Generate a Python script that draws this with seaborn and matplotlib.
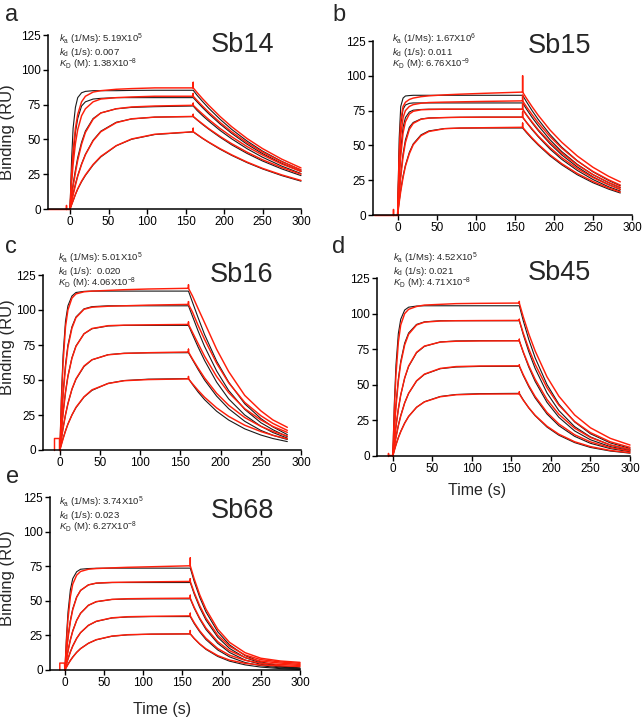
import pandas as pd
import seaborn as sns
import matplotlib.pyplot as plt

# shared association time grid (s); dissociation grid is per panel
T_ASSOC = [0, 2, 4, 7, 10, 15, 20, 30, 40, 60, 80, 110, 160]

# ---------------- Sb14 ----------------
sb14_diss_t = [165, 172, 180, 195, 210, 230, 250, 275, 300]
sb14_fit = [
    [0, 35, 58, 73, 80, 83.5, 84.5, 85, 85, 85, 85.2, 85.3, 85.3, 81.7, 77.3, 72.5, 64.4, 57.2, 48.8, 41.6, 34.2, 28.0],
    [0, 22, 38, 55, 65, 74, 77, 79, 79.5, 80, 80, 80, 80, 77.0, 72.9, 68.5, 61.0, 54.3, 46.5, 39.8, 32.8, 27.0],
    [0, 9.5, 18, 28, 37, 48, 56, 65, 69, 72, 73, 73.5, 74, 70.8, 67.1, 63.2, 56.4, 50.4, 43.3, 37.2, 30.8, 25.5],
    [0, 5.7, 10.9, 17.9, 24.0, 32.4, 39.3, 49.4, 55.9, 62.3, 64.7, 66.0, 66.4, 64.0, 60.8, 57.4, 51.5, 46.1, 39.9, 34.5, 28.8, 24.0],
    [0, 3.0, 5.9, 10.4, 14.3, 19.6, 24.1, 31.6, 37.4, 45.4, 50.1, 53.5, 55.4, 53.4, 50.7, 47.9, 42.9, 38.5, 33.3, 28.8, 24.0, 20.0],
]
# observed: association (13), spike at 160, dissociation (9)
sb14_obs = [
    [0, 25, 42, 58, 68, 77, 81, 84, 85, 86, 86.5, 87, 87, 91, 83.7, 79.3, 74.6, 66.4, 59.1, 50.6, 43.4, 35.8, 29.5],
    [0, 18, 32, 47, 57, 67, 72, 77, 79, 80, 80.5, 81, 81, 83, 78.0, 74.0, 69.6, 62.1, 55.4, 47.6, 40.9, 33.9, 28.0],
    [0, 8, 16, 26, 35, 46.5, 55, 64.5, 69, 72, 73.3, 74, 74.5, 76, 71.8, 68.3, 64.4, 57.8, 51.9, 44.8, 38.8, 32.3, 27.0],
    [0, 5, 10, 17, 23.5, 32, 39, 49, 55.5, 62, 64.8, 66, 66.5, 68, 64.2, 61.2, 57.8, 52.1, 46.9, 40.8, 35.4, 29.8, 25.0],
    [0, 3, 6, 10.5, 14.5, 20, 24.5, 32, 37.8, 45.5, 50.3, 53.7, 55.5, 58, 53.6, 50.9, 48.1, 43.3, 38.9, 33.7, 29.2, 24.5, 20.5],
]
sb14_base_t = [-28, -5, -5, -5, 0]
sb14_base_v = [0, 0, 3, 0, 0]

# ---------------- Sb15 ----------------
sb15_diss_t = [165, 172, 180, 195, 210, 230, 250, 270, 285]
sb15_fit = [
    [0, 55, 78, 84, 85.5, 85.8, 86, 86, 86, 86, 86, 86, 86, 81.3, 75.1, 68.6, 57.9, 48.8, 39.0, 31.0, 24.8, 21.0],
    [0, 42, 65, 76, 79, 80.2, 80.5, 80.5, 80.5, 80.5, 80.5, 80.5, 80.5, 76.0, 70.2, 64.2, 54.1, 45.6, 36.4, 29.0, 23.2, 19.6],
    [0, 28, 47, 63, 70, 74, 75.3, 75.8, 76, 76, 76, 76, 76, 71.8, 66.3, 60.6, 51.2, 43.2, 34.5, 27.4, 21.9, 18.5],
    [0, 16, 29, 44, 54, 63, 66.5, 69, 69.7, 70, 70.2, 70.3, 70.3, 66.5, 61.4, 56.2, 47.4, 40.0, 32.0, 25.5, 20.3, 17.2],
    [0, 9.8, 18.0, 28.0, 35.8, 45.0, 51.1, 57.6, 60.4, 62.1, 62.4, 62.5, 62.5, 59.1, 54.8, 50.2, 42.5, 36.1, 28.9, 23.2, 18.6, 15.8],
]
sb15_obs = [
    [0, 45, 68, 78, 81, 83, 84, 85, 85.6, 86.3, 86.8, 87.4, 88.3, 100, 83.8, 77.9, 71.6, 61.1, 52.3, 42.4, 34.3, 27.8, 23.8],
    [0, 35, 57, 70, 75, 78, 79.3, 80.3, 80.8, 81.1, 81.3, 81.6, 82, 86, 77.7, 72.2, 66.2, 56.4, 48.1, 38.8, 31.3, 25.3, 21.5],
    [0, 24, 42, 59, 67, 72.5, 74.5, 75.6, 75.8, 76, 76, 76, 76, 80, 72.0, 66.9, 61.3, 52.3, 44.5, 35.9, 29.0, 23.4, 19.9],
    [0, 14, 27, 42, 52, 61.5, 65.8, 68.8, 69.6, 70, 70.2, 70.3, 70.3, 74, 66.6, 61.9, 56.7, 48.4, 41.2, 33.3, 26.9, 21.7, 18.4],
    [0, 9, 17, 27, 35, 44, 50.5, 57, 60, 62, 62.5, 62.7, 63, 66, 59.7, 55.4, 50.8, 43.3, 36.9, 29.8, 24.1, 19.4, 16.5],
]
sb15_base_t = [-30, -6, -6, -6, 0]
sb15_base_v = [0, 0, 4, 0, 0]

# ---------------- Sb16 ----------------
sb16_diss_t = [165, 172, 180, 195, 210, 230, 250, 265, 283]
sb16_fit = [
    [0, 40, 68, 92, 103, 110, 112.5, 113.3, 113.5, 113.5, 113.5, 113.5, 113.5, 105.5, 94.5, 82.5, 63.5, 48.5, 33.0, 22.5, 16.5, 11.0],
    [0, 23, 41, 61, 75, 88, 95, 100.8, 102.4, 103, 103, 103, 103, 95.5, 85.0, 74.0, 56.5, 42.5, 29.0, 19.5, 14.5, 9.5],
    [0, 14.7, 26.9, 41.6, 52.8, 65.9, 74.3, 83.0, 86.6, 88.6, 89, 89, 89, 82.5, 73.5, 64.0, 48.5, 36.5, 25.0, 17.0, 12.5, 8.5],
    [0, 8.5, 15.9, 25.4, 33.2, 43.3, 50.5, 59.6, 64.4, 68.1, 69.1, 69.4, 69.5, 64.5, 57.5, 50.0, 38.5, 29.5, 20.5, 14.0, 10.5, 7.5],
    [0, 4.4, 8.4, 13.8, 18.5, 25.0, 30.2, 37.8, 42.6, 47.6, 49.6, 50.6, 51, 46.8, 41.4, 36.0, 27.7, 21.4, 15.1, 10.7, 8.2, 6.0],
]
sb16_obs = [
    [0, 35, 62, 88, 100, 108.5, 111.5, 113, 113.5, 114, 114.5, 115, 115.5, 118, 110.0, 101.0, 91.0, 72.0, 56.0, 39.0, 28.0, 21.5, 16.2],
    [0, 21, 39, 59, 73.5, 87, 94.5, 100.5, 102, 102.7, 103, 103.5, 104, 106, 98.5, 89.0, 79.0, 62.0, 48.0, 34.0, 24.5, 19.0, 14.0],
    [0, 14, 26, 41, 52.5, 65.5, 74, 83, 86.8, 88.8, 89.2, 89.4, 89.7, 91.5, 84.0, 76.0, 67.0, 52.5, 41.0, 29.5, 21.5, 16.8, 12.6],
    [0, 8, 15.5, 25, 33, 43.5, 50.8, 60, 64.5, 68, 69, 69.5, 70, 72, 65.0, 58.5, 51.5, 40.5, 32.0, 23.2, 16.9, 13.3, 10.0],
    [0, 4, 8, 13.5, 18.5, 25, 30.5, 38, 43, 47.5, 49.5, 50.3, 50.8, 52.5, 47.3, 42.6, 37.7, 30.1, 24.0, 17.7, 13.2, 10.5, 8.0],
]
sb16_base_t = [-7, -7, -1, -1, 0]
sb16_base_v = [0, 8.5, 8.5, 0, 0]

# ---------------- Sb45 ----------------
sb45_diss_t = [165, 172, 180, 195, 210, 230, 250, 275, 300]
sb45_fit = [
    [0, 38, 64, 86, 96, 102.5, 104.5, 105.3, 105.5, 105.5, 105.5, 105.5, 105.5, 95.0, 81.8, 69.0, 50.2, 36.5, 23.9, 15.6, 9.2, 5.4],
    [0, 20.2, 36.2, 54.0, 66.4, 79.3, 86.4, 92.4, 94.2, 95, 95, 95, 95, 85.2, 73.2, 61.5, 44.3, 31.9, 20.6, 13.4, 7.7, 4.5],
    [0, 11.3, 21.0, 33.1, 42.8, 54.7, 62.9, 72.5, 77.0, 80.1, 80.8, 81, 81, 72.7, 62.4, 52.4, 37.7, 27.2, 17.6, 11.4, 6.6, 3.8],
    [0, 7.1, 13.4, 21.6, 28.4, 37.4, 44.0, 52.6, 57.3, 61.3, 62.5, 62.9, 63, 56.5, 48.6, 40.8, 29.5, 21.3, 13.8, 8.9, 5.2, 3.0],
    [0, 4.2, 8.0, 13.0, 17.3, 23.2, 27.8, 34.2, 38.1, 41.8, 43.2, 43.8, 44, 39.4, 33.7, 28.3, 20.3, 14.6, 9.4, 6.0, 3.5, 2.0],
]
sb45_obs = [
    [0, 33, 57, 80, 92, 100, 103, 105, 106, 106.5, 107, 107.2, 107.4, 108.5, 97.7, 85.7, 73.8, 55.6, 42.0, 28.8, 19.8, 12.4, 7.7],
    [0, 19, 34.5, 52.5, 65, 78, 85.5, 92, 94, 94.8, 95, 95.1, 95.2, 96, 86.3, 75.2, 64.4, 48.0, 35.7, 24.2, 16.4, 10.0, 6.1],
    [0, 10.8, 20.5, 32.8, 42.8, 54.8, 63.2, 72.8, 77.2, 80, 80.6, 80.8, 80.9, 82, 73.1, 63.4, 53.9, 39.7, 29.3, 19.5, 13.0, 7.8, 4.7],
    [0, 6.8, 13, 21.2, 28, 37.2, 44, 52.8, 57.5, 61.5, 62.8, 63.2, 63.3, 64, 57.1, 49.4, 41.8, 30.6, 22.5, 14.9, 9.9, 5.9, 3.5],
    [0, 4, 7.8, 12.8, 17, 23, 27.8, 34.2, 38, 41.6, 43, 43.5, 43.6, 45, 39.2, 33.9, 28.6, 20.9, 15.3, 10.0, 6.6, 3.9, 2.3],
]
sb45_base_t = [-6, -6, -6, 0]
sb45_base_v = [0, 2, 1, 1]

# ---------------- Sb68 ----------------
sb68_diss_t = [165, 172, 180, 195, 210, 230, 250, 275, 300]
sb68_fit = [
    [0, 24, 42, 58, 66, 71, 72.8, 73.3, 73.5, 73.6, 73.6, 73.6, 73.6, 64.0, 52.6, 42.0, 27.6, 18.2, 10.4, 5.9, 2.9, 1.5],
    [0, 13.5, 24.1, 35.9, 44.2, 52.8, 57.5, 61.5, 62.7, 63.2, 63.2, 63.2, 63.2, 54.9, 45.2, 36.1, 23.7, 15.6, 8.9, 5.1, 2.5, 1.3],
    [0, 7.6, 14.1, 22.0, 28.3, 35.9, 41.0, 46.7, 49.3, 51.0, 51.3, 51.4, 51.4, 44.7, 36.8, 29.3, 19.3, 12.7, 7.2, 4.1, 2.1, 1.0],
    [0, 4.4, 8.2, 13.2, 17.4, 22.9, 27.0, 32.2, 35.1, 37.6, 38.3, 38.6, 38.6, 33.5, 27.6, 22.0, 14.5, 9.5, 5.4, 3.1, 1.5, 0.8],
    [0, 2.2, 4.3, 7.0, 9.4, 12.8, 15.5, 19.3, 21.8, 24.4, 25.4, 25.9, 26.1, 22.7, 18.7, 14.9, 9.8, 6.4, 3.7, 2.1, 1.0, 0.5],
]
sb68_obs = [
    [0, 20, 37, 53, 62, 68.5, 71.2, 72.8, 73.3, 73.8, 74.2, 74.6, 75.3, 81, 65.8, 54.4, 44.0, 29.5, 20.0, 12.5, 8.5, 6.5, 5.5],
    [0, 12.5, 23, 35, 43.5, 52.5, 57.5, 61.5, 62.8, 63.3, 63.5, 63.7, 64, 66, 56.0, 46.5, 37.5, 25.2, 17.2, 10.8, 7.5, 5.8, 4.8],
    [0, 7.2, 13.6, 21.6, 28, 35.8, 41, 46.8, 49.4, 51, 51.5, 51.7, 51.9, 54, 45.3, 37.5, 30.3, 20.5, 14.0, 9.0, 6.4, 5.0, 4.0],
    [0, 4.2, 8, 13, 17.2, 22.8, 27, 32.3, 35.2, 37.7, 38.5, 38.8, 39.1, 41, 34.2, 28.3, 22.9, 15.5, 10.7, 7.0, 5.0, 4.0, 3.3],
    [0, 2, 4.1, 6.8, 9.2, 12.7, 15.4, 19.3, 21.9, 24.5, 25.5, 25.9, 26.1, 28.5, 22.8, 18.9, 15.3, 10.4, 7.2, 4.8, 3.6, 3.0, 2.5],
]
sb68_base_t = [-6.5, -6.5, -0.5, 0]
sb68_base_v = [0, 5, 5, 0]

# kinetic constants shown in each panel
names = ["Sb14", "Sb15", "Sb16", "Sb45", "Sb68"]
panel_letters = ["a", "b", "c", "d", "e"]
ka_text = ["5.19X10$^{5}$", "1.67X10$^{6}$", "5.01X10$^{5}$", "4.52X10$^{5}$", "3.74X10$^{5}$"]
kd_text = ["0.007", "0.011", " 0.020", "0.021", "0.023"]
KD_text = ["1.38X10$^{-8}$", "6.76X10$^{-9}$", "4.06X10$^{-8}$", "4.71X10$^{-8}$", "6.27X10$^{-8}$"]

panels = [
    (sb14_fit, sb14_obs, sb14_diss_t, sb14_base_t, sb14_base_v),
    (sb15_fit, sb15_obs, sb15_diss_t, sb15_base_t, sb15_base_v),
    (sb16_fit, sb16_obs, sb16_diss_t, sb16_base_t, sb16_base_v),
    (sb45_fit, sb45_obs, sb45_diss_t, sb45_base_t, sb45_base_v),
    (sb68_fit, sb68_obs, sb68_diss_t, sb68_base_t, sb68_base_v),
]


def build_frame(fit, obs, diss_t, base_t, base_v):
    rows = []
    t_fit = T_ASSOC + diss_t
    for i, vals in enumerate(fit):
        for t, v in zip(t_fit, vals):
            rows.append((t, v, f"fit{i}", "fit"))
    # red trace goes up to the injection spike at 160 s and back before decaying
    t_obs = T_ASSOC + [160, 160] + diss_t
    for i, vals in enumerate(obs):
        seq = vals[:14] + [vals[12]] + vals[14:]
        for t, v in zip(t_obs, seq):
            rows.append((t, v, f"obs{i}", "obs"))
    for t, v in zip(base_t, base_v):
        rows.append((t, v, "base", "obs"))
    return pd.DataFrame(rows, columns=["time", "RU", "curve", "kind"])


sns.set_theme(style="ticks")
plt.rcParams["font.family"] = ["Liberation Sans", "DejaVu Sans"]
plt.rcParams["mathtext.fontset"] = "custom"
plt.rcParams["mathtext.rm"] = "Liberation Sans"
plt.rcParams["mathtext.it"] = "Liberation Sans:italic"

W, H = 642, 719
fig = plt.figure(figsize=(W / 100, H / 100), dpi=100)

# pixel boxes: left, right, top, bottom
boxes = [(48, 301, 35, 209), (373, 632, 41, 215), (43, 301, 275, 450),
         (377, 630, 278, 456), (50, 300, 497, 670)]
xmins = [-28.6, -31.5, -21, -20, -19]
title_pos = [(0.77, 0.945), (0.72, 0.97), (0.77, 1.0), (0.72, 1.03), (0.77, 0.92)]
letter_pos = [(5, 21), (332, 21), (5, 253), (332, 253), (6, 483)]
annot_pos = [(59, 32), (392, 32), (58, 251), (393, 251), (59, 495)]

RED = "#ff1e0a"

for k, (fit, obs, diss_t, base_t, base_v) in enumerate(panels):
    l, r, t, b = boxes[k]
    ax = fig.add_axes([l / W, 1 - b / H, (r - l) / W, (b - t) / H])
    df = build_frame(fit, obs, diss_t, base_t, base_v)
    # fitted curves underneath, measured traces in red on top
    sns.lineplot(data=df[df.kind == "fit"], x="time", y="RU", units="curve",
                 estimator=None, sort=False, color="#1a1a1a", lw=0.8, ax=ax)
    sns.lineplot(data=df[df.kind == "obs"], x="time", y="RU", units="curve",
                 estimator=None, sort=False, color=RED, lw=1.05, ax=ax)
    for ln in ax.lines:
        ln.set_clip_on(False)

    ax.set_xlim(xmins[k], 300)
    ax.set_ylim(0, 125)
    ax.set_xticks([0, 50, 100, 150, 200, 250, 300])
    ax.set_yticks([0, 25, 50, 75, 100, 125])
    ax.tick_params(direction="out", length=3.5, width=1, labelsize=8.5, pad=1.5, colors="black")
    for side in ["top", "right"]:
        ax.spines[side].set_visible(False)
    for side in ["left", "bottom"]:
        ax.spines[side].set_linewidth(1.1)
        ax.spines[side].set_color("black")
    ax.set_xlabel("")
    ax.set_ylabel("")

    ax.text(title_pos[k][0], title_pos[k][1], names[k], transform=ax.transAxes,
            ha="center", va="center", fontsize=19.5)
    fig.text(letter_pos[k][0] / W, 1 - letter_pos[k][1] / H, panel_letters[k],
             fontsize=17, va="baseline", ha="left")
    ax_x, ax_y = annot_pos[k]
    block = "\n".join([r"$k_{\mathrm{a}}$ (1/Ms): " + ka_text[k],
                       r"$k_{\mathrm{d}}$ (1/s): " + kd_text[k],
                       r"$K_{\mathrm{D}}$ (M): " + KD_text[k]])
    fig.text(ax_x / W, 1 - ax_y / H, block, fontsize=6.8, linespacing=0.84,
             ha="left", va="top")

    if k in (0, 2, 4):
        ax.set_ylabel("Binding (RU)", fontsize=12)
        lab = {0: (-0.130, 0.44), 2: (-0.109, 0.59), 4: (-0.14, 0.53)}[k]
        ax.yaxis.set_label_coords(*lab)
    if k in (3, 4):
        ax.set_xlabel("Time (s)", fontsize=11.5)
        lab = {3: (0.394, -0.152), 4: (0.448, -0.185)}[k]
        ax.xaxis.set_label_coords(*lab)

fig.savefig("out.png", dpi=100)
